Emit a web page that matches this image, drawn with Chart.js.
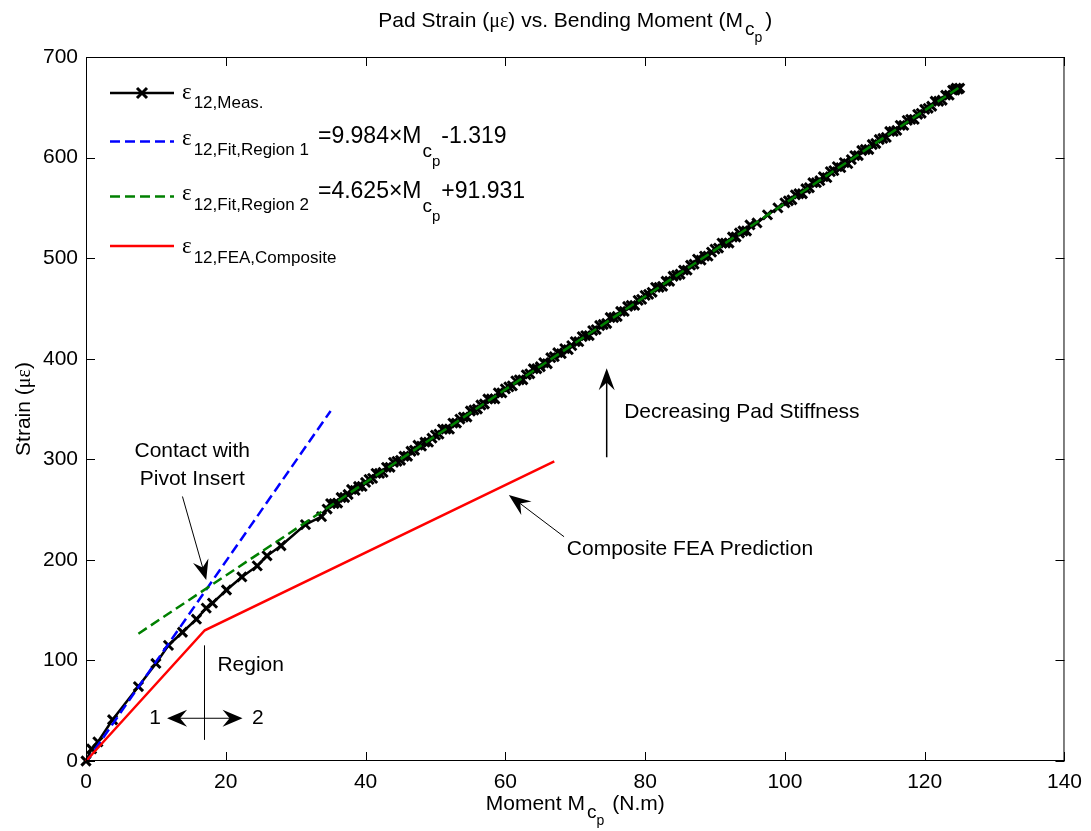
<!DOCTYPE html>
<html>
<head>
<meta charset="utf-8">
<script src="https://cdn.jsdelivr.net/npm/chart.js@4/dist/chart.umd.min.js"></script>
<style>
  html, body { margin: 0; padding: 0; background: #fff; }
  #wrap { width: 1091px; height: 831px; }
</style>
</head>
<body>
<div id="wrap"><canvas id="chart" width="1091" height="831"></canvas></div>
<script>
// 测量数据 (Moment N.m, Strain µε)
const measM = [0, 0.8, 1.7, 3.8, 7.5, 10.0, 11.8, 13.8, 15.8, 17.2, 18.1, 20.1, 22.3, 24.5, 25.9, 27.9, 31.4, 33.7,
  34.5, 35.0, 35.5, 36.0, 36.5, 37.0, 37.5, 38.0, 38.5, 39.0, 39.5, 40.0, 40.5, 41.0, 41.5, 42.0, 42.5, 43.0, 43.5,
  44.0, 44.5, 45.0, 45.5, 46.0, 46.5, 47.0, 47.5, 48.0, 48.5, 49.0, 49.5, 50.0, 50.5, 51.0, 51.5, 52.0, 52.5, 53.0,
  53.5, 54.0, 54.5, 55.0, 55.5, 56.0, 56.5, 57.0, 57.5, 58.0, 58.5, 59.0, 59.5, 60.0, 60.5, 61.0, 61.5, 62.0, 62.5,
  63.0, 63.5, 64.0, 64.5, 65.0, 65.5, 66.0, 66.5, 67.0, 67.5, 68.0, 68.5, 69.0, 69.5, 70.0, 70.5, 71.0, 71.5, 72.0,
  72.5, 73.0, 73.5, 74.0, 74.5, 75.0, 75.5, 76.0, 76.5, 77.0, 77.5, 78.0, 78.5, 79.0, 79.5, 80.0, 80.5, 81.0, 81.5,
  82.0, 82.5, 83.0, 83.5, 84.0, 84.5, 85.0, 85.5, 86.0, 86.5, 87.0, 87.5, 88.0, 88.5, 89.0, 89.5, 90.0, 90.5, 91.0,
  91.5, 92.0, 92.5, 93.0, 93.5, 94.0, 94.5, 95.0, 96.0, 97.5, 99.0, 100.0, 100.5, 101.0, 101.5, 102.0, 102.5, 103.0,
  103.5, 104.0, 104.5, 105.0, 105.5, 106.0, 106.5, 107.0, 107.5, 108.0, 108.5, 109.0, 109.5, 110.0, 110.5, 111.0,
  111.5, 112.0, 112.5, 113.0, 113.5, 114.0, 114.5, 115.0, 115.5, 116.0, 116.5, 117.0, 117.5, 118.0, 118.5, 119.0,
  119.5, 120.0, 120.5, 121.0, 121.5, 122.0, 122.5, 123.0, 123.5, 124.0, 124.3, 124.5, 124.8, 125.0];
const measS = [0, 12, 19, 41, 74, 97, 115, 128, 141, 152, 157, 170, 183, 194, 204, 214, 235, 243,
  250.5, 256, 256, 256.5, 262, 262, 265, 270, 269, 273, 273, 277, 280, 281, 286, 286, 287, 292, 292,
  297, 298, 299, 303, 303, 308, 309, 314, 313, 317, 317, 321, 324, 325, 330, 330, 330, 336, 336,
  340, 342, 342, 348, 349, 350, 354, 355, 360, 360, 360, 366, 366, 370, 372, 373, 378, 379, 379,
  384, 385, 390, 390, 392, 396, 395, 401, 402, 406, 405, 410, 409, 413, 417, 417, 422, 423, 423,
  428, 429, 433, 434, 435, 441, 441, 442, 447, 447, 452, 453, 453, 458, 459, 463, 464, 466, 471,
  471, 472, 477, 477, 482, 483, 484, 488, 488, 493, 494, 499, 498, 502, 502, 506, 509, 510, 515,
  515, 515, 521, 521, 525, 527, 527, 533, 535, 543, 550, 555, 557, 558, 563, 564, 564, 569,
  570, 575, 575, 577, 581, 580, 586, 587, 591, 590, 595, 594, 598, 602, 602, 607,
  608, 608, 613, 614, 618, 619, 620, 626, 626, 627, 632, 632, 637, 638, 638, 643,
  644, 648, 649, 651, 656, 656, 657, 662, 662, 667, 667, 669, 668, 669];

// 拟合直线 / FEA
const fit1M = [0, 35];
const fit1S = [-1.3, 348.1];
const fit2M = [7.5, 125];
const fit2S = [126.6, 670.0];
const feaM = [0, 17, 67];
const feaS = [0, 130, 298];

// 坐标轴刻度
const xTicks = [0, 20, 40, 60, 80, 100, 120, 140];
const yTicks = [0, 100, 200, 300, 400, 500, 600, 700];

const SANS = '"Liberation Sans", Arial, Helvetica, sans-serif';
const GREEK = '"Liberation Serif", "DejaVu Serif", serif';

function toPoints(xs, ys) {
  return xs.map((x, i) => ({ x: x, y: ys[i] }));
}

// 绘制带上下标的文字
function richWidth(ctx, parts) {
  let w = 0;
  parts.forEach(p => {
    ctx.font = p.size + 'px ' + (p.family || SANS);
    w += ctx.measureText(p.t).width + (p.gap || 0);
  });
  return w;
}
function richText(ctx, x, y, parts) {
  parts.forEach(p => {
    ctx.font = p.size + 'px ' + (p.family || SANS);
    ctx.fillText(p.t, x, y + (p.dy || 0));
    x += ctx.measureText(p.t).width + (p.gap || 0);
  });
  return x;
}

// MATLAB 风格箭头
function arrow(ctx, x1, y1, x2, y2, len, wid, lw) {
  const a = Math.atan2(y2 - y1, x2 - x1);
  ctx.save();
  ctx.strokeStyle = '#000';
  ctx.fillStyle = '#000';
  ctx.lineWidth = lw;
  ctx.beginPath();
  ctx.moveTo(x1, y1);
  ctx.lineTo(x2 - Math.cos(a) * len * 0.6, y2 - Math.sin(a) * len * 0.6);
  ctx.stroke();
  ctx.translate(x2, y2);
  ctx.rotate(a);
  ctx.beginPath();
  ctx.moveTo(0, 0);
  ctx.lineTo(-len, -wid / 2);
  ctx.lineTo(-len * 0.65, 0);
  ctx.lineTo(-len, wid / 2);
  ctx.closePath();
  ctx.fill();
  ctx.restore();
}

// 注释位置 (数据坐标)
const notes = {
  contact1: { x: 15.2, y: 308, t: 'Contact with' },
  contact2: { x: 15.2, y: 280, t: 'Pivot Insert' },
  contactArrow: { x1: 13.8, y1: 263, x2: 17.2, y2: 180 },
  region: { x: 18.8, y: 95, t: 'Region' },
  regionLine: { x: 16.9, y1: 115, y2: 21 },
  regionArrow: { x1: 11.6, x2: 22.4, y: 42.5 },
  one: { x: 9.9, y: 42.5, t: '1' },
  two: { x: 24.6, y: 42.5, t: '2' },
  stiff: { x: 77, y: 347, t: 'Decreasing Pad Stiffness' },
  stiffArrow: { x: 74.5, y1: 302, y2: 390.5 },
  fea: { x: 68.8, y: 211, t: 'Composite FEA Prediction' },
  feaArrow: { x1: 68.4, y1: 223, x2: 60.5, y2: 264.5 }
};

const decor = {
  id: 'decor',
  afterDraw(chart) {
    const ctx = chart.ctx;
    const a = chart.chartArea;
    const xs = chart.scales.x, ys = chart.scales.y;
    const px = v => xs.getPixelForValue(v);
    const py = v => ys.getPixelForValue(v);
    ctx.save();

    // 坐标框和刻度
    ctx.strokeStyle = '#000';
    ctx.lineWidth = 1;
    ctx.strokeRect(a.left + 0.5, a.top + 0.5, a.right - a.left - 1, a.bottom - a.top - 1);
    ctx.beginPath();
    xTicks.forEach(v => {
      const x = Math.round(px(v)) + 0.5;
      ctx.moveTo(x, a.bottom); ctx.lineTo(x, a.bottom - 9);
      ctx.moveTo(x, a.top); ctx.lineTo(x, a.top + 9);
    });
    yTicks.forEach(v => {
      const y = Math.round(py(v)) + 0.5;
      ctx.moveTo(a.left, y); ctx.lineTo(a.left + 9, y);
      ctx.moveTo(a.right, y); ctx.lineTo(a.right - 9, y);
    });
    ctx.stroke();

    ctx.fillStyle = '#000';
    ctx.textBaseline = 'alphabetic';
    ctx.textAlign = 'left';

    // 标题
    const title = [
      { t: 'Pad Strain (', size: 21 },
      { t: 'με', size: 20, family: GREEK },
      { t: ') vs. Bending Moment (M', size: 21, gap: 2 },
      { t: 'c', size: 19, dy: 8 },
      { t: 'p', size: 14, dy: 15, gap: 3 },
      { t: ')', size: 21 }
    ];
    const tw = richWidth(ctx, title);
    richText(ctx, (a.left + a.right) / 2 - tw / 2, 27, title);

    // x 轴标题
    const xt = [
      { t: 'Moment M', size: 21, gap: 2 },
      { t: 'c', size: 19, dy: 8 },
      { t: 'p', size: 14, dy: 15, gap: 8 },
      { t: '(N.m)', size: 21 }
    ];
    const xw = richWidth(ctx, xt);
    richText(ctx, (a.left + a.right) / 2 - xw / 2, 810, xt);

    // y 轴标题
    ctx.save();
    ctx.translate(30, (a.top + a.bottom) / 2);
    ctx.rotate(-Math.PI / 2);
    const yt = [
      { t: 'Strain (', size: 21 },
      { t: 'με', size: 20, family: GREEK },
      { t: ')', size: 21 }
    ];
    const yw = richWidth(ctx, yt);
    richText(ctx, -yw / 2, 0, yt);
    ctx.restore();

    // 图例
    const legendRows = [
      { y: 93, color: '#000', dash: [], marker: true },
      { y: 141.5, color: '#0000ff', dash: [10, 5] },
      { y: 196.5, color: '#008000', dash: [10, 5] },
      { y: 246, color: '#ff0000', dash: [] }
    ];
    legendRows.forEach(r => {
      ctx.save();
      ctx.strokeStyle = r.color;
      ctx.lineWidth = r.marker ? 2.5 : 2.5;
      ctx.setLineDash(r.dash);
      ctx.beginPath();
      ctx.moveTo(110, r.y); ctx.lineTo(174, r.y);
      ctx.stroke();
      if (r.marker) {
        ctx.setLineDash([]);
        ctx.lineWidth = 3;
        ctx.beginPath();
        ctx.moveTo(137, r.y - 5); ctx.lineTo(147, r.y + 5);
        ctx.moveTo(147, r.y - 5); ctx.lineTo(137, r.y + 5);
        ctx.stroke();
      }
      ctx.restore();
    });
    const eps = { t: 'ε', size: 23, family: GREEK, gap: 2 };
    richText(ctx, 182, 99, [eps, { t: '12,Meas.', size: 17, dy: 9 }]);
    richText(ctx, 182, 145, [eps, { t: '12,Fit,Region 1', size: 17, dy: 10, gap: 9 },
      { t: '=9.984×M', size: 23, dy: -2, gap: 1 }, { t: 'c', size: 19, dy: 12 },
      { t: 'p', size: 15, dy: 21, gap: 1 }, { t: '-1.319', size: 23, dy: -2 }]);
    richText(ctx, 182, 200, [eps, { t: '12,Fit,Region 2', size: 17, dy: 10, gap: 9 },
      { t: '=4.625×M', size: 23, dy: -2, gap: 1 }, { t: 'c', size: 19, dy: 12 },
      { t: 'p', size: 15, dy: 21, gap: 1 }, { t: '+91.931', size: 23, dy: -2 }]);
    richText(ctx, 182, 253, [eps, { t: '12,FEA,Composite', size: 17, dy: 10 }]);

    // 注释
    ctx.font = '21px ' + SANS;
    ctx.textBaseline = 'middle';
    ctx.textAlign = 'center';
    ctx.fillText(notes.contact1.t, px(notes.contact1.x), py(notes.contact1.y));
    ctx.fillText(notes.contact2.t, px(notes.contact2.x), py(notes.contact2.y));
    ctx.fillText(notes.one.t, px(notes.one.x), py(notes.one.y));
    ctx.fillText(notes.two.t, px(notes.two.x), py(notes.two.y));
    ctx.textAlign = 'left';
    ctx.fillText(notes.region.t, px(notes.region.x), py(notes.region.y));
    ctx.fillText(notes.stiff.t, px(notes.stiff.x), py(notes.stiff.y));
    ctx.fillText(notes.fea.t, px(notes.fea.x), py(notes.fea.y));

    const ca = notes.contactArrow;
    arrow(ctx, px(ca.x1), py(ca.y1), px(ca.x2), py(ca.y2), 20, 16, 1);
    const rl = notes.regionLine;
    ctx.lineWidth = 1;
    ctx.beginPath();
    ctx.moveTo(Math.round(px(rl.x)) + 0.5, py(rl.y1));
    ctx.lineTo(Math.round(px(rl.x)) + 0.5, py(rl.y2));
    ctx.stroke();
    const ra = notes.regionArrow;
    const mid = px((ra.x1 + ra.x2) / 2);
    arrow(ctx, mid, py(ra.y), px(ra.x1), py(ra.y), 20, 17, 1);
    arrow(ctx, mid, py(ra.y), px(ra.x2), py(ra.y), 20, 17, 1);
    const sa = notes.stiffArrow;
    arrow(ctx, px(sa.x), py(sa.y1), px(sa.x), py(sa.y2), 22, 16, 1.5);
    const fa = notes.feaArrow;
    arrow(ctx, px(fa.x1), py(fa.y1), px(fa.x2), py(fa.y2), 22, 17, 1);

    ctx.restore();
  }
};

new Chart(document.getElementById('chart'), {
  type: 'line',
  data: {
    datasets: [
      {
        label: 'ε12,Meas.',
        data: toPoints(measM, measS),
        borderColor: '#000',
        borderWidth: 2.5,
        pointStyle: 'crossRot',
        pointRadius: 6.5,
        pointBorderWidth: 3,
        pointBorderColor: '#000',
        clip: false,
        order: 4
      },
      {
        label: 'ε12,Fit,Region 1',
        data: toPoints(fit1M, fit1S),
        borderColor: '#0000ff',
        borderWidth: 2.5,
        borderDash: [10, 5],
        pointRadius: 0,
        order: 3
      },
      {
        label: 'ε12,Fit,Region 2',
        data: toPoints(fit2M, fit2S),
        borderColor: '#008000',
        borderWidth: 2.5,
        borderDash: [10, 5],
        pointRadius: 0,
        order: 2
      },
      {
        label: 'ε12,FEA,Composite',
        data: toPoints(feaM, feaS),
        borderColor: '#ff0000',
        borderWidth: 2.5,
        pointRadius: 0,
        clip: false,
        order: 1
      }
    ]
  },
  options: {
    responsive: false,
    animation: false,
    layout: { padding: { top: 57, right: 21, left: 0, bottom: 0 } },
    plugins: { legend: { display: false }, tooltip: { enabled: false } },
    scales: {
      x: {
        type: 'linear',
        min: 0,
        max: 140,
        grid: { display: false, drawTicks: false },
        border: { display: false },
        ticks: { stepSize: 20, color: '#000', padding: 9, font: { family: SANS, size: 21 }, maxRotation: 0 },
        afterFit(s) { s.height = 70; }
      },
      y: {
        type: 'linear',
        min: 0,
        max: 700,
        grid: { display: false, drawTicks: false },
        border: { display: false },
        ticks: { stepSize: 100, color: '#000', padding: 8, font: { family: SANS, size: 21 } },
        afterFit(s) { s.width = 86; }
      }
    }
  },
  plugins: [decor]
});
</script>
</body>
</html>
